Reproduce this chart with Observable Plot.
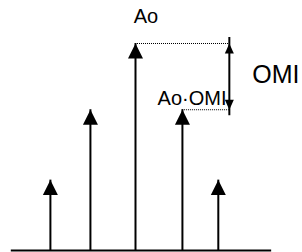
<!DOCTYPE html>
<html><head><meta charset="utf-8">
<script src="https://cdn.jsdelivr.net/npm/d3@7"></script>
<script src="https://cdn.jsdelivr.net/npm/@observablehq/plot@0.6"></script>
<style>html,body{margin:0;padding:0;background:#fff;} svg{display:block;}</style>
</head><body><div id="chart"></div>
<script>
// Spectral lines (frequency offset from carrier, relative amplitude)
const freqs = [-1.85, -0.98, 0, 1.02, 1.8];
const amps = [0.34, 0.68, 1.0, 0.68, 0.34];
const baselineRange = [-2.70, 2.96];
const omiX = 2.04;
const carrierAmp = 1.0;
const sidebandAmp = 0.68;
const labels = ["Ao", "Ao·OMI", "OMI"];
const labelX = [-0.04, 0.48, 2.54];
const labelY = [1.097, 0.705, 0.81];

const lines = freqs.map((f, i) => ({f, a: amps[i]}));
const upHead = {draw(ctx){ ctx.moveTo(0,0); ctx.lineTo(-7.5,15); ctx.lineTo(7.5,15); ctx.closePath(); }};
const smallUp = {draw(ctx){ ctx.moveTo(0,0); ctx.lineTo(-4.5,10); ctx.lineTo(4.5,10); ctx.closePath(); }};
const smallDown = {draw(ctx){ ctx.moveTo(0,0); ctx.lineTo(-4.5,-10); ctx.lineTo(4.5,-10); ctx.closePath(); }};
const font = "Liberation Sans, Arial, sans-serif";

const plot = Plot.plot({
  width: 302, height: 252,
  marginLeft: 0, marginRight: 0, marginTop: 43, marginBottom: 2,
  x: {domain: [-135/46, 167/46], axis: null},
  y: {domain: [0, 1], axis: null},
  style: {fontFamily: font, background: "white"},
  marks: [
    Plot.ruleY([0], {x1: baselineRange[0], x2: baselineRange[1], stroke: "black", strokeWidth: 2}),
    Plot.ruleX(lines, {x: "f", y1: 0, y2: "a", stroke: "black", strokeWidth: 2}),
    Plot.dot(lines, {x: "f", y: "a", symbol: upHead, fill: "black", stroke: "none", r: 5}),
    Plot.ruleY([carrierAmp], {x1: 0, x2: omiX, stroke: "black", strokeWidth: 1, strokeDasharray: "1,1"}),
    Plot.ruleY([sidebandAmp], {x1: freqs[3], x2: omiX, stroke: "black", strokeWidth: 1, strokeDasharray: "1,1"}),
    Plot.ruleX([omiX], {y1: sidebandAmp, y2: carrierAmp, stroke: "black", strokeWidth: 2, insetTop: 6, insetBottom: 6}),
    Plot.dot([[omiX, carrierAmp]], {x: d => d[0], y: d => d[1], symbol: smallUp, fill: "black", stroke: "none", r: 3}),
    Plot.dot([[omiX, sidebandAmp]], {x: d => d[0], y: d => d[1], symbol: smallDown, fill: "black", stroke: "none", r: 3}),
    Plot.text(labels.slice(0, 2), {x: (d, i) => labelX[i], y: (d, i) => labelY[i], text: d => d, textAnchor: "start", lineAnchor: "bottom", fontSize: 20, fill: "black"}),
    Plot.text([labels[2]], {x: labelX[2], y: labelY[2], text: d => d, textAnchor: "start", lineAnchor: "bottom", fontSize: 25, fill: "black"})
  ]
});
document.getElementById("chart").appendChild(plot);
</script>
</body></html>
